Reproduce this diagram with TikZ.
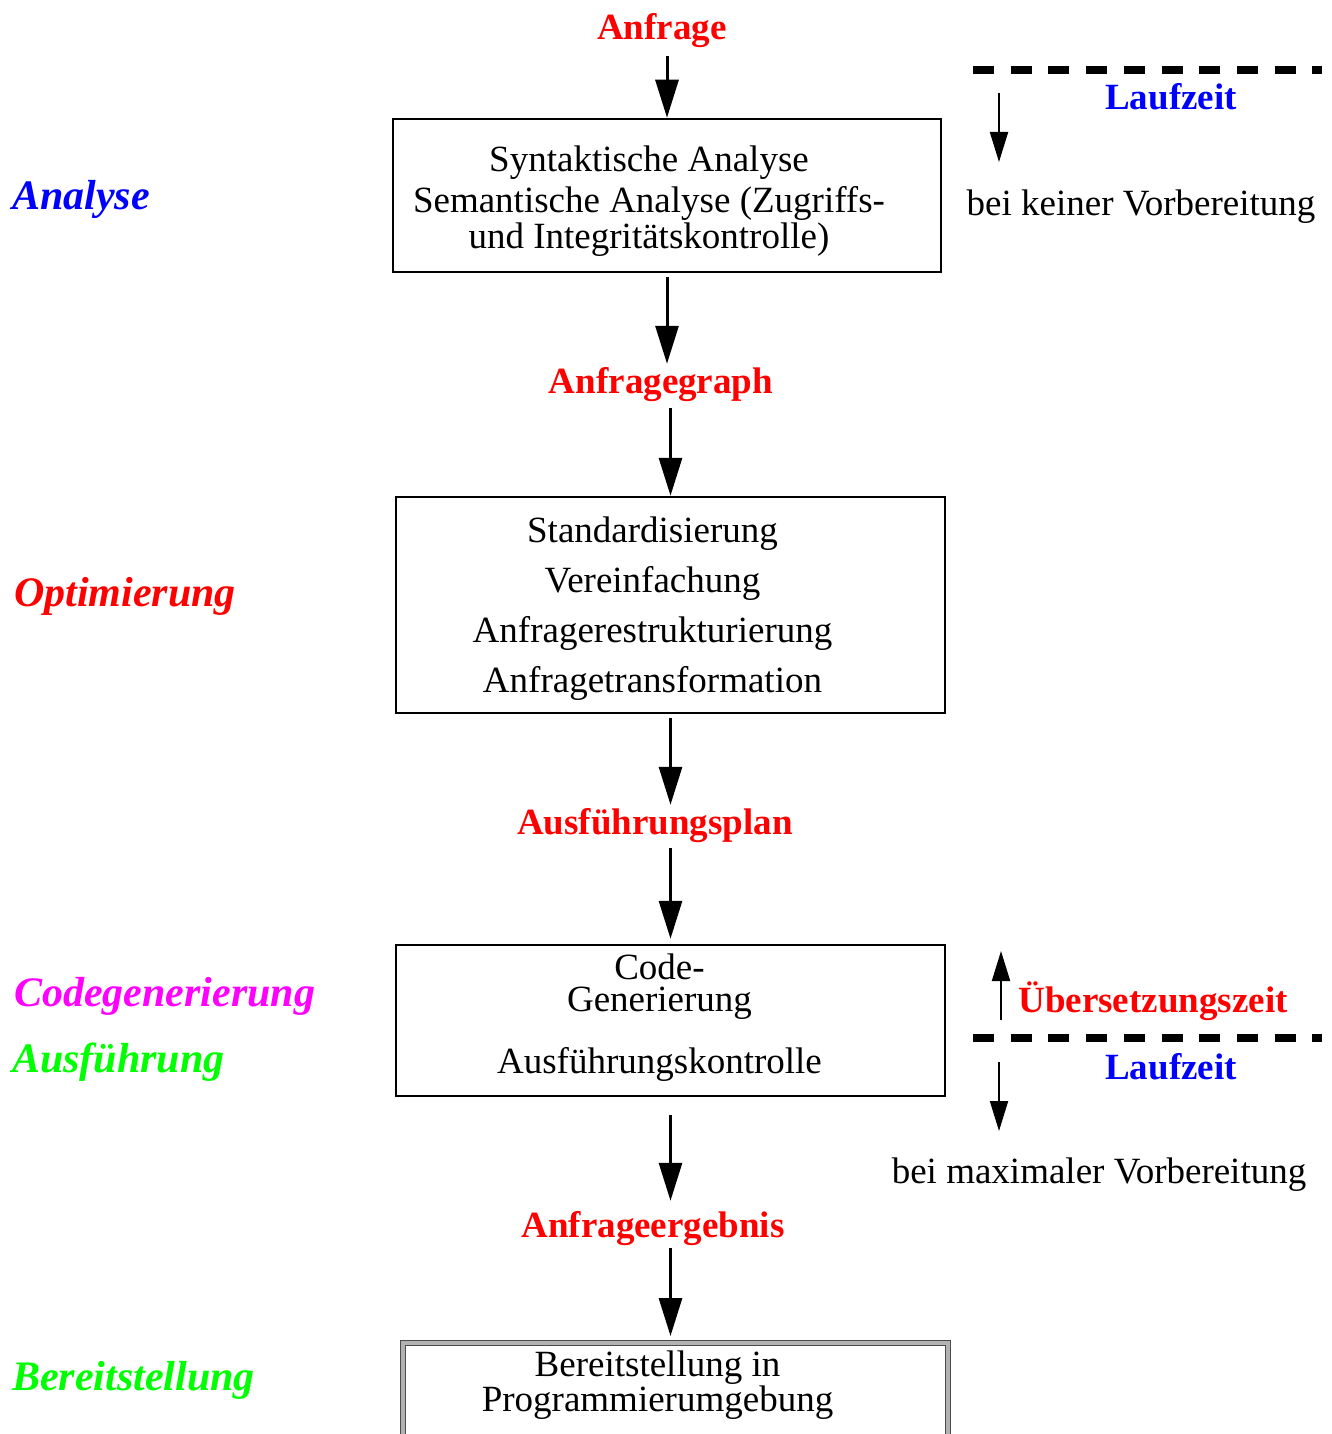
\documentclass[tikz,border=0pt]{standalone}
\usepackage{fontspec}
\setmainfont{Liberation Serif}
\usetikzlibrary{arrows.meta}

\definecolor{rot}{RGB}{255,0,0}
\definecolor{blau}{RGB}{0,0,255}
\definecolor{lila}{RGB}{255,0,255}
\definecolor{gruen}{RGB}{0,255,0}
\newcommand{\einzug}{\rule{36pt}{0pt}}
\newcommand{\kleinzug}{\rule{22pt}{0pt}}

\tikzset{
	schritt/.style={draw,line width=2.5pt,inner sep=0pt,align=center,font=\fontsize{37}{41}\selectfont},
	zwerg/.style={anchor=base,inner sep=3pt,font=\fontsize{37}{41}\selectfont\bfseries,text=rot},
	phase/.style={anchor=base west,inner sep=0pt,font=\fontsize{42}{48}\selectfont\bfseries\itshape},
	hinweis/.style={anchor=base,inner sep=0pt,font=\fontsize{37}{41}\selectfont},
	fluss/.style={-{Triangle[length=38pt,width=23pt]},line width=3pt},
	zeitpfeil/.style={-{Triangle[length=30pt,width=18pt]},line width=2pt},
	grenze/.style={line width=8pt,dash pattern=on 21pt off 16.7pt},
}

\begin{document}
\begin{tikzpicture}[x=1pt,y=-1pt]
	\useasboundingbox (0,0) rectangle (1332,1434);
	% phases on the left
	\node[phase,text=blau] (analyse) at (12,210) {Analyse};
	\node[phase,text=rot] (optim) at (14,606) {Optimierung};
	\node[phase,text=lila] (codegen) at (14,1006) {Codegenerierung};
	\node[phase,text=gruen] (ausf) at (12,1072) {Ausführung};
	\node[phase,text=gruen] (bereit) at (12,1390) {Bereitstellung};
	% steps
	\node[schritt,anchor=base,minimum width=548pt,text height=129pt,text depth=24pt] (b1) at (667,248)
		{Syntaktische Analyse\einzug\\Semantische Analyse (Zugriffs-\einzug\\[-5pt]und Integritätskontrolle)\einzug};
	\node[schritt,anchor=base,minimum width=549pt,text height=195pt,text depth=21pt,font=\fontsize{37}{50}\selectfont] (b2) at (670.5,692)
		{Standardisierung\einzug\\Vereinfachung\einzug\\Anfragerestrukturierung\einzug\\Anfragetransformation\einzug};
	\node[schritt,anchor=base,minimum width=549pt,text height=128pt,text depth=23pt,font=\fontsize{37}{32}\selectfont] (b3) at (670.5,1073)
		{Code-\kleinzug\\Generierung\kleinzug\\[26pt]Ausführungskontrolle\kleinzug};
	\node[schritt,draw=none,outer sep=0pt,anchor=base,minimum width=545pt,text height=68pt,text depth=60pt,font=\fontsize{37}{33}\selectfont] (b4) at (675.5,1411)
		{Bereitstellung in\einzug\\Programmierumgebung\einzug};
	\draw[line width=0.9pt,draw=black!70,double=gray!60,double distance=4.5pt] (b4.south west) -- (b4.north west) -- (b4.north east) -- (b4.south east);
	% intermediate results
	\node[zwerg] (anfrage) at (662,40) {Anfrage};
	\node[zwerg] (graph) at (661,393) {Anfragegraph};
	\node[zwerg] (plan) at (655,834) {Ausführungsplan};
	\node[zwerg] (ergebnis) at (653,1237) {Anfrageergebnis};
	\draw[fluss,shorten <=5pt] (anfrage.south -| b1.north) -- (b1.north);
	\draw[fluss,shorten <=4pt] (b1.south) -- (b1.south |- graph.north);
	\draw[fluss,shorten <=4pt] (graph.south -| b2.north) -- (b2.north);
	\draw[fluss,shorten <=4pt] (b2.south) -- (b2.south |- plan.north);
	\draw[fluss,shorten <=3pt,shorten >=5pt] (plan.south -| b3.north) -- (b3.north);
	\draw[fluss,shorten <=18pt,shorten >=7pt] (b3.south) -- (b3.south |- ergebnis.north);
	\draw[fluss,shorten >=7pt] (ergebnis.south -| b3.south) -- (b3.south |- b4.north);
	% time line on the right
	\draw[grenze] (973,70) -- (1322,70);
	\draw[grenze] (973,1038) -- (1322,1038);
	\node[zwerg,text=blau] (lauf1) at (1171,110) {Laufzeit};
	\node[zwerg,text=blau] (lauf2) at (1171,1079) {Laufzeit};
	\node[zwerg] (uebers) at (1153,1012) {Übersetzungszeit};
	\node[hinweis] (keine) at (1141,215) {bei keiner Vorbereitung};
	\node[hinweis] (maximal) at (1099,1183) {bei maximaler Vorbereitung};
	\coordinate (z1) at (999,93);
	\coordinate (z2) at (999,162);
	\coordinate (z3) at (1001,1020);
	\coordinate (z4) at (1001,951);
	\coordinate (z5) at (999,1062);
	\coordinate (z6) at (999,1131);
	\draw[zeitpfeil] (z1) -- (z2);
	\draw[zeitpfeil] (z3) -- (z4);
	\draw[zeitpfeil] (z5) -- (z6);
\end{tikzpicture}
\end{document}
